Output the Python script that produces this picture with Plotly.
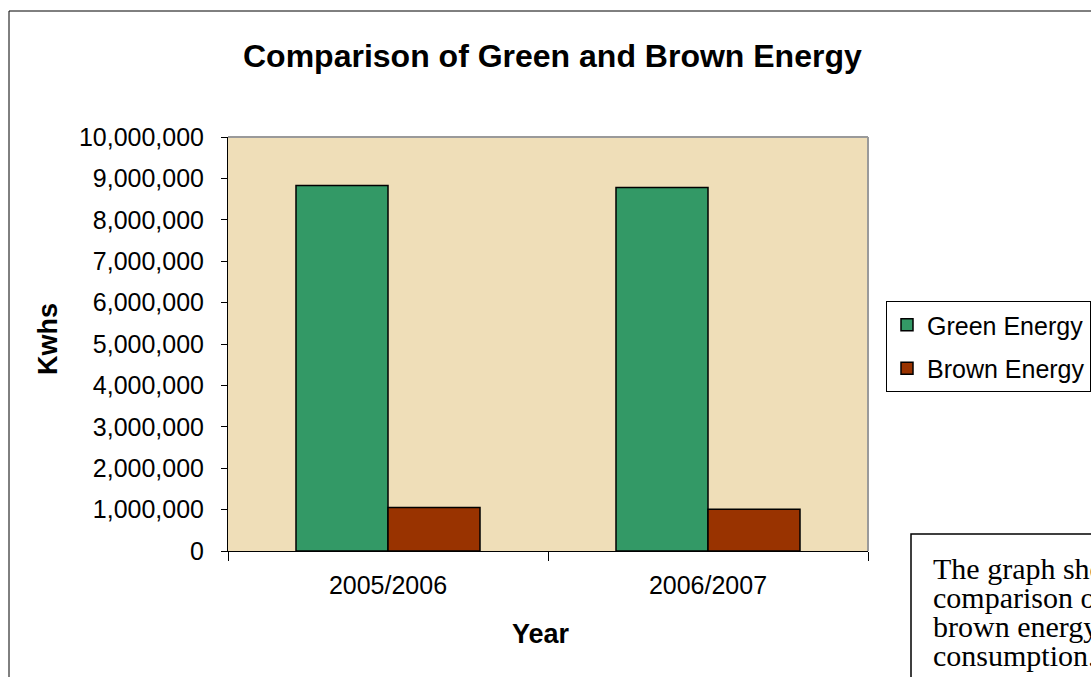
import plotly.graph_objects as go

# Annual energy consumption (kWh)
years = ["2005/2006", "2006/2007"]
green_energy = [8830000, 8780000]
brown_energy = [1050000, 1010000]
y_ticks = list(range(0, 10000001, 1000000))

W, H = 1091, 677
L, R, T, B = 228, 223, 137, 126
PW, PH = W - L - R, H - T - B


def xp(px):
    return (px - L) / PW


def yp(py):
    return (H - B - py) / PH


SANS = "Liberation Sans, Arial, sans-serif"
SERIF = "Liberation Serif, Times New Roman, serif"

fig = go.Figure()
fig.add_trace(go.Bar(
    x=years, y=green_energy, name="Green Energy", legendgroup="g",
    marker=dict(color="#339966", line=dict(color="black", width=1.5)),
))
fig.add_trace(go.Bar(
    x=years, y=brown_energy, name="Brown Energy", legendgroup="b",
    marker=dict(color="#993300", line=dict(color="black", width=1.5)),
))

shapes = [
    # chart frame
    dict(type="rect", xref="paper", yref="paper", x0=xp(9), y0=yp(11),
         x1=xp(1110), y1=yp(700), line=dict(color="black", width=1),
         fillcolor="rgba(0,0,0,0)", layer="below"),
    # plot-area border (top and right)
    dict(type="line", xref="paper", yref="paper", x0=0, y0=1, x1=1, y1=1,
         line=dict(color="#9a9a9a", width=2)),
    dict(type="line", xref="paper", yref="paper", x0=1, y0=0, x1=1, y1=1,
         line=dict(color="#9a9a9a", width=2)),
    # caption box
    dict(type="rect", xref="paper", yref="paper", x0=xp(911), y0=yp(534),
         x1=xp(1120), y1=yp(720), line=dict(color="black", width=1.5),
         fillcolor="white"),
]

caption_lines = ["The graph shows a", "comparison of green and",
                 "brown energy", "consumption."]
annotations = [
    dict(text="<b>Comparison of Green and Brown Energy</b>", x=xp(552), y=yp(56),
         xref="paper", yref="paper", showarrow=False, xanchor="center",
         yanchor="middle", font=dict(family=SANS, size=32, color="black")),
    dict(text="<b>Kwhs</b>", x=xp(48), y=yp(339), xref="paper", yref="paper",
         showarrow=False, textangle=-90, xanchor="center", yanchor="middle",
         font=dict(family=SANS, size=27, color="black")),
    dict(text="<b>Year</b>", x=xp(541), y=yp(634), xref="paper", yref="paper",
         showarrow=False, xanchor="center", yanchor="middle",
         font=dict(family=SANS, size=27, color="black")),
]
for i, line in enumerate(caption_lines):
    annotations.append(dict(
        text=line, x=xp(931), y=yp(568 + 29 * i), xref="paper", yref="paper",
        showarrow=False, xanchor="left", yanchor="middle",
        font=dict(family=SERIF, size=30, color="black")))

fig.update_layout(
    width=W, height=H,
    margin=dict(l=L, r=R, t=T, b=B, pad=0, autoexpand=False),
    paper_bgcolor="white",
    plot_bgcolor="#EFDEB8",
    barmode="group", bargap=0.425, bargroupgap=0,
    showlegend=True,
    legend=dict(x=xp(886), y=yp(301), xanchor="left", yanchor="top",
                bgcolor="white", bordercolor="black", borderwidth=1,
                font=dict(family=SANS, size=25, color="black"),
                tracegroupgap=8, traceorder="grouped", itemwidth=30),
    shapes=shapes,
    annotations=annotations,
    xaxis=dict(type="category", tickson="boundaries", ticks="outside",
               ticklen=9, tickcolor="black", tickwidth=1,
               showline=True, linecolor="black", linewidth=1,
               showgrid=False, ticklabelstandoff=12,
               tickfont=dict(family=SANS, size=25, color="black")),
    yaxis=dict(range=[0, 10000000], tickvals=y_ticks, tickformat=",",
               ticks="outside", ticklen=6, tickcolor="black", tickwidth=1,
               showline=True, linecolor="black", linewidth=1,
               showgrid=False, zeroline=False, ticklabelstandoff=12,
               tickfont=dict(family=SANS, size=25, color="black")),
)

fig.write_html("out.html")
